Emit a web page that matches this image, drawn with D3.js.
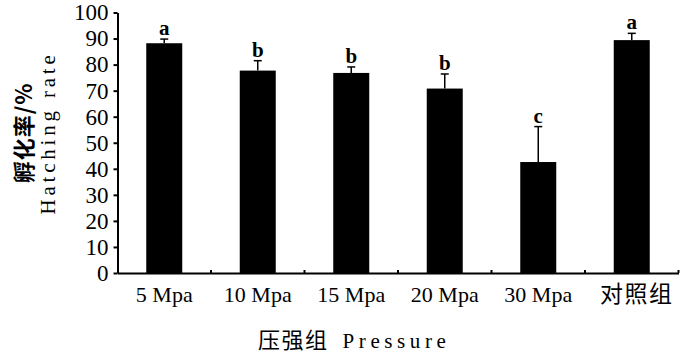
<!DOCTYPE html>
<html>
<head>
<meta charset="utf-8">
<script src="https://cdn.jsdelivr.net/npm/d3@7"></script>
<style>
  body { margin: 0; background: #fff; }
</style>
</head>
<body>
<div id="chart"></div>
<script>
// data
const groups = ["5 Mpa", "10 Mpa", "15 Mpa", "20 Mpa", "30 Mpa", "对照组"];
const rates = [88.2, 77.7, 76.8, 70.8, 42.6, 89.4];
const errors = [1.6, 3.8, 2.3, 5.6, 13.6, 2.6];
const letters = ["a", "b", "b", "b", "c", "a"];
const yTicks = [0, 10, 20, 30, 40, 50, 60, 70, 80, 90, 100];

const W = 700, H = 354;
const margin = {top: 12.5, right: 21.5, bottom: 81, left: 117.5},
    width = W - margin.left - margin.right,
    height = H - margin.top - margin.bottom;

const serif = "'Liberation Serif', 'Times New Roman', serif";
const cjk = "'Noto Sans CJK SC', sans-serif";

const svg = d3.select("#chart")
    .append("svg")
    .attr("width", W)
    .attr("height", H)
    .append("g")
    .attr("transform", `translate(${margin.left},${margin.top})`);

// X axis
const x = d3.scaleBand()
    .range([0, width])
    .domain(groups)
    .paddingInner(0.615)
    .paddingOuter(0.3075);

// Y axis
const y = d3.scaleLinear()
    .domain([0, 100])
    .range([height, 0]);

// Bars
svg.selectAll("rect.bar")
    .data(groups)
    .join("rect")
    .attr("class", "bar")
    .attr("x", d => x(d))
    .attr("y", (d, i) => y(rates[i]))
    .attr("width", x.bandwidth())
    .attr("height", (d, i) => height - y(rates[i]))
    .attr("fill", "#000");

// error bars (upper half only)
const cx = d => x(d) + x.bandwidth() / 2;
svg.selectAll("line.err")
    .data(groups)
    .join("line")
    .attr("class", "err")
    .attr("x1", cx).attr("x2", cx)
    .attr("y1", (d, i) => y(rates[i]))
    .attr("y2", (d, i) => y(rates[i] + errors[i]))
    .attr("stroke", "#000")
    .attr("stroke-width", 1.5);
svg.selectAll("line.cap")
    .data(groups)
    .join("line")
    .attr("class", "cap")
    .attr("x1", d => cx(d) - 4).attr("x2", d => cx(d) + 4)
    .attr("y1", (d, i) => y(rates[i] + errors[i]))
    .attr("y2", (d, i) => y(rates[i] + errors[i]))
    .attr("stroke", "#000")
    .attr("stroke-width", 1.5);

// significance letters
svg.selectAll("text.sig")
    .data(groups)
    .join("text")
    .attr("class", "sig")
    .attr("x", cx)
    .attr("y", (d, i) => y(rates[i] + errors[i]) - 4)
    .attr("text-anchor", "middle")
    .attr("font-family", serif)
    .attr("font-weight", "bold")
    .attr("font-size", 21)
    .text((d, i) => letters[i]);

// y axis
const yAxis = svg.append("g")
    .call(d3.axisLeft(y).tickValues(yTicks).tickSize(4).tickSizeOuter(0).tickPadding(5))
    .attr("font-family", serif)
    .attr("font-size", 23);
yAxis.select(".domain").attr("stroke-width", 2);
yAxis.selectAll(".tick line").attr("stroke-width", 2);
yAxis.selectAll("text").attr("fill", "#000");

// x axis: line with small inward ticks between categories
const xAxis = svg.append("g")
    .attr("transform", `translate(0, ${height})`)
    .call(d3.axisBottom(x).tickSize(0).tickPadding(13))
    .attr("font-family", serif)
    .attr("font-size", 22);
xAxis.select(".domain").attr("stroke-width", 2);
xAxis.selectAll("text")
    .attr("fill", "#000")
    .filter(d => /[\u4e00-\u9fff]/.test(d))
    .attr("font-family", cjk)
    .attr("font-size", 23)
    .attr("dx", 5)
    .attr("letter-spacing", 1.5);

const step = x.step();
svg.selectAll("line.xtick")
    .data(d3.range(1, groups.length + 1))
    .join("line")
    .attr("class", "xtick")
    .attr("x1", d => d * step).attr("x2", d => d * step)
    .attr("y1", height).attr("y2", height - 3)
    .attr("stroke", "#000")
    .attr("stroke-width", 2);

// axis titles
const xTitle = svg.append("text")
    .attr("x", 258 - margin.left)
    .attr("y", 348 - margin.top);
xTitle.append("tspan")
    .attr("font-family", cjk)
    .attr("font-size", 22)
    .attr("letter-spacing", 1.5)
    .text("压强组");
xTitle.append("tspan")
    .attr("dx", 14)
    .attr("font-family", serif)
    .attr("font-size", 21)
    .attr("letter-spacing", 4.6)
    .text("Pressure");

const yTitle = svg.append("g")
    .attr("transform", `translate(${-margin.left}, ${133 - margin.top}) rotate(-90)`);
yTitle.append("text")
    .attr("x", 0).attr("y", 32)
    .attr("text-anchor", "middle")
    .attr("font-family", cjk)
    .attr("font-size", 22)
    .attr("font-weight", "bold")
    .attr("letter-spacing", 1)
    .text("孵化率/%");
yTitle.append("text")
    .attr("x", 0).attr("y", 55)
    .attr("text-anchor", "middle")
    .attr("font-family", serif)
    .attr("font-size", 21)
    .attr("letter-spacing", 3.8)
    .text("Hatching rate");
</script>
</body>
</html>
